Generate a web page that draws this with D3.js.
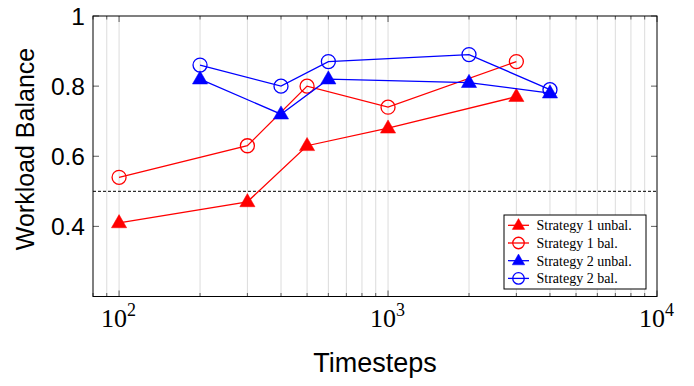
<!DOCTYPE html>
<html><head><meta charset="utf-8">
<script src="https://cdn.jsdelivr.net/npm/d3@7"></script>
<style>body{margin:0;background:#fff}svg{display:block}</style>
</head><body>
<svg id="c" width="694" height="386"></svg>
<script>
const s1x = [100, 300, 500, 1000, 3000];
const s1unbal = [0.41, 0.47, 0.63, 0.68, 0.77];
const s1bal = [0.54, 0.63, 0.80, 0.74, 0.87];
const s2x = [200, 400, 600, 2000, 4000];
const s2unbal = [0.82, 0.72, 0.82, 0.81, 0.78];
const s2bal = [0.86, 0.80, 0.87, 0.89, 0.79];
const seriesNames = ["Strategy 1 unbal.", "Strategy 1 bal.", "Strategy 2 unbal.", "Strategy 2 bal."];
const yTicks = [0.4, 0.6, 0.8, 1];
const xTickExps = [2, 3, 4];
const threshold = 0.5;

const series = [
  {name: seriesNames[0], xs: s1x, ys: s1unbal, color: "#ff0000", marker: "tri"},
  {name: seriesNames[1], xs: s1x, ys: s1bal, color: "#ff0000", marker: "circ"},
  {name: seriesNames[2], xs: s2x, ys: s2unbal, color: "#0000ff", marker: "tri"},
  {name: seriesNames[3], xs: s2x, ys: s2bal, color: "#0000ff", marker: "circ"}
];

const L = 93, R = 657, T = 16, B = 296.5;
const svg = d3.select("#c");
const x = d3.scaleLog().domain([80, 10000]).range([L, R]);
const y = d3.scaleLinear().domain([0.2, 1]).range([B, T]);

const minors = [];
for (let e = 1; e <= 3; e++) for (let m = 1; m <= 9; m++) {
  const v = m * Math.pow(10, e);
  if (v >= 80 && v <= 10000) minors.push(v);
}
minors.push(10000);
svg.append("g").selectAll("line").data(minors.filter(v => v > 80 && v < 10000)).join("line")
  .attr("x1", d => x(d)).attr("x2", d => x(d)).attr("y1", T).attr("y2", B)
  .attr("stroke", "#dcdcdc").attr("stroke-width", 1);

const tg = svg.append("g").attr("stroke", "#333").attr("stroke-width", 0.8);
minors.forEach(v => {
  const major = Math.abs(Math.log10(v) - Math.round(Math.log10(v))) < 1e-9;
  const len = major ? 6 : 3.5;
  tg.append("line").attr("x1", x(v)).attr("x2", x(v)).attr("y1", B).attr("y2", B - len);
  tg.append("line").attr("x1", x(v)).attr("x2", x(v)).attr("y1", T).attr("y2", T + len);
});
yTicks.forEach(v => {
  tg.append("line").attr("x1", L).attr("x2", L + 6).attr("y1", y(v)).attr("y2", y(v));
  tg.append("line").attr("x1", R).attr("x2", R - 6).attr("y1", y(v)).attr("y2", y(v));
});

svg.append("line").attr("x1", L).attr("x2", R).attr("y1", y(threshold)).attr("y2", y(threshold))
  .attr("stroke", "#000").attr("stroke-width", 1).attr("stroke-dasharray", "3,2");

svg.append("rect").attr("x", L).attr("y", T).attr("width", R - L).attr("height", B - T)
  .attr("fill", "none").attr("stroke", "#000").attr("stroke-width", 1);

svg.append("g").selectAll("text").data(yTicks).join("text")
  .attr("x", L - 8).attr("y", d => y(d) + 9).attr("text-anchor", "end")
  .attr("font-family", "Liberation Sans, Arial, sans-serif").attr("font-size", 24.5)
  .text(d => d === 1 ? "1" : d.toFixed(1));

xTickExps.forEach(e => {
  const t = svg.append("text").attr("x", x(Math.pow(10, e)) - 18).attr("y", 326.5)
    .attr("text-anchor", "start").attr("font-family", "Liberation Serif, Times New Roman, serif")
    .attr("font-size", 26);
  t.append("tspan").text("10");
  t.append("tspan").attr("dy", -11).attr("font-size", 18).text(String(e));
});

svg.append("text").attr("x", 375).attr("y", 372).attr("text-anchor", "middle")
  .attr("font-family", "Liberation Sans, Arial, sans-serif").attr("font-size", 27).text("Timesteps");
svg.append("text").attr("transform", "translate(34,149) rotate(-90)").attr("text-anchor", "middle")
  .attr("font-family", "Liberation Sans, Arial, sans-serif").attr("font-size", 25).text("Workload Balance");

function drawMarker(g, type, color, cx, cy, scale) {
  if (type === "tri") {
    const p = d3.symbol().type(d3.symbolTriangle).size(100 * scale * scale)();
    g.append("path").attr("d", p).attr("transform", `translate(${cx},${cy + 0.5})`)
      .attr("fill", color).attr("stroke", color).attr("stroke-width", 0.5);
  } else {
    g.append("circle").attr("cx", cx).attr("cy", cy).attr("r", 7 * scale)
      .attr("fill", "none").attr("stroke", color).attr("stroke-width", 1.3);
  }
}

const line = d3.line().x(d => x(d[0])).y(d => y(d[1]));
series.forEach(s => {
  const pts = s.xs.map((v, i) => [v, s.ys[i]]);
  const g = svg.append("g");
  g.append("path").attr("d", line(pts)).attr("fill", "none").attr("stroke", s.color).attr("stroke-width", 1.3);
  pts.forEach(p => drawMarker(g, s.marker, s.color, x(p[0]), y(p[1]), 1));
});

const lg = svg.append("g");
lg.append("rect").attr("x", 504).attr("y", 215).attr("width", 142).attr("height", 74)
  .attr("fill", "#fff").attr("stroke", "#000").attr("stroke-width", 1);
series.forEach((s, i) => {
  const cy = 225.3 + i * 17.7;
  lg.append("line").attr("x1", 508).attr("x2", 529).attr("y1", cy).attr("y2", cy)
    .attr("stroke", s.color).attr("stroke-width", 1.3);
  drawMarker(lg, s.marker, s.color, 518.5, cy, 0.82);
  lg.append("text").attr("x", 536.5).attr("y", cy + 5).attr("font-family", "Liberation Serif, Times New Roman, serif")
    .attr("font-size", 14).text(s.name);
});
</script>
</body></html>
